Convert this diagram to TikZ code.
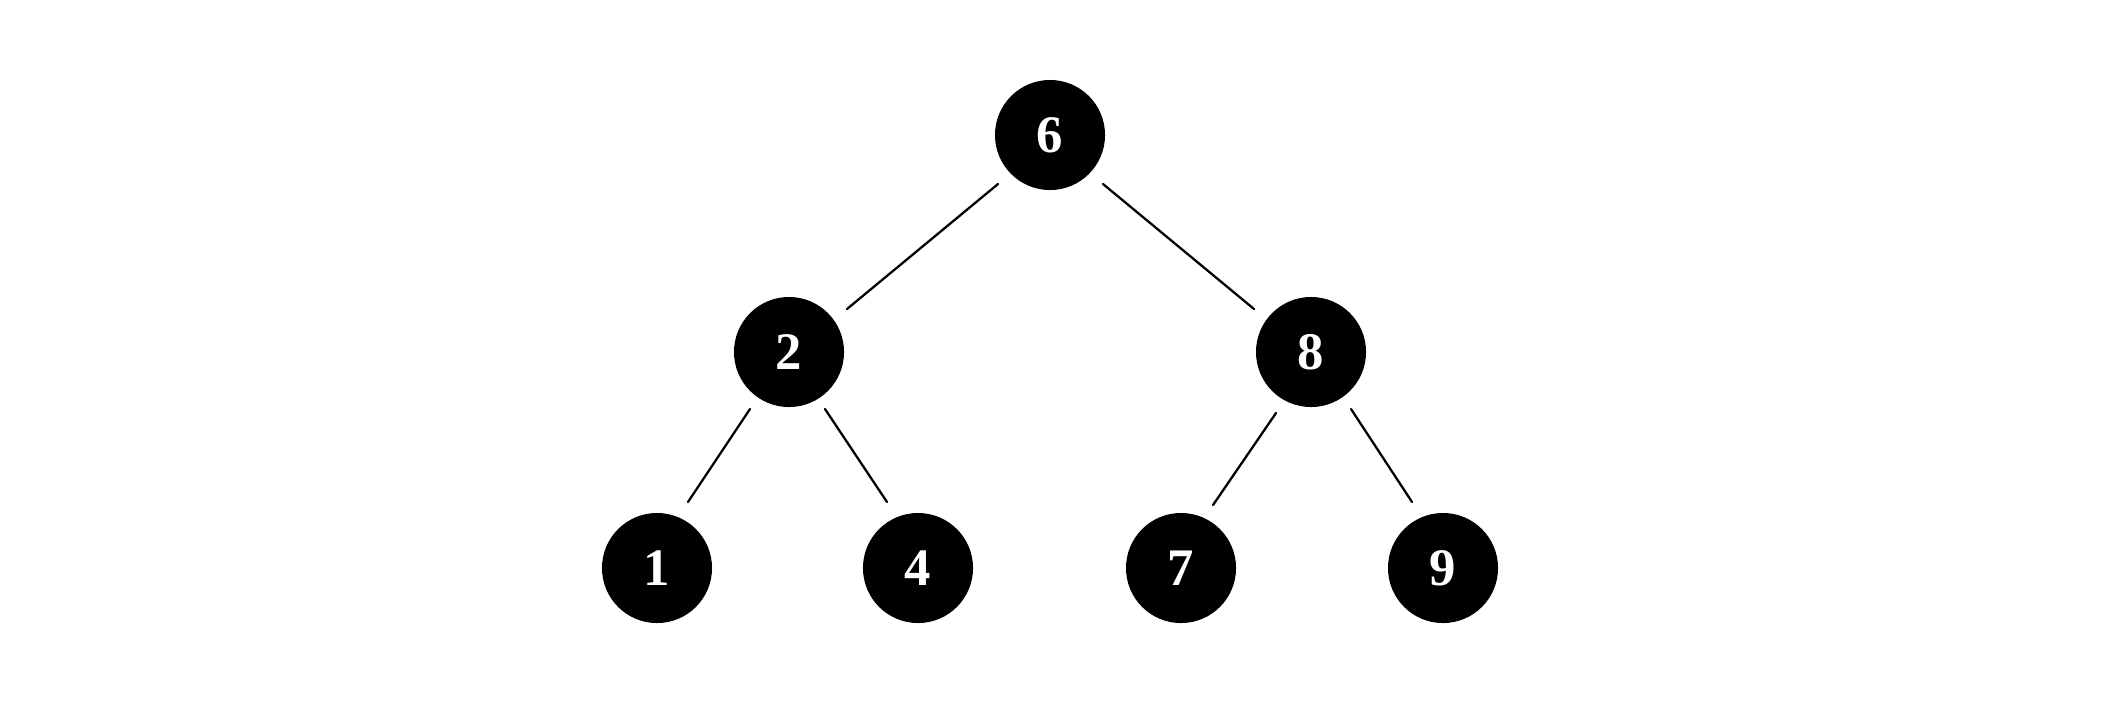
\documentclass[tikz,border=0pt]{standalone}
\usepackage{fontspec}
\setmainfont{Liberation Serif}
\usetikzlibrary{calc}
\begin{document}
\begin{tikzpicture}[x=0.01cm,y=-0.01cm,
  treenode/.style={circle,fill=black,minimum size=1.1cm,inner sep=0pt,
    text=white,font=\fontsize{15}{15}\selectfont\bfseries},
  treeedge/.style={line width=0.65pt,line cap=round}]
\useasboundingbox (0,0) rectangle (2101,708);
\node[treenode] (n6) at (1050,135) {6};
\node[treenode] (n2) at (789,352) {2};
\node[treenode] (n8) at (1311,352) {8};
\node[treenode] (n1) at (657,568) {1};
\node[treenode] (n4) at (918,568) {4};
\node[treenode] (n7) at (1181,568) {7};
\node[treenode] (n9) at (1443,568) {9};
\draw[treeedge] ($(n6)+(-52,49)$) -- ($(n2)+(58,-43)$);
\draw[treeedge] ($(n6)+(53,49)$) -- ($(n8)+(-57,-43)$);
\draw[treeedge] ($(n2)+(-39,57)$) -- ($(n1)+(31,-66)$);
\draw[treeedge] ($(n2)+(36,57)$) -- ($(n4)+(-31,-66)$);
\draw[treeedge] ($(n8)+(-35,61)$) -- ($(n7)+(32,-63)$);
\draw[treeedge] ($(n8)+(40,57)$) -- ($(n9)+(-31,-66)$);
\end{tikzpicture}
\end{document}
